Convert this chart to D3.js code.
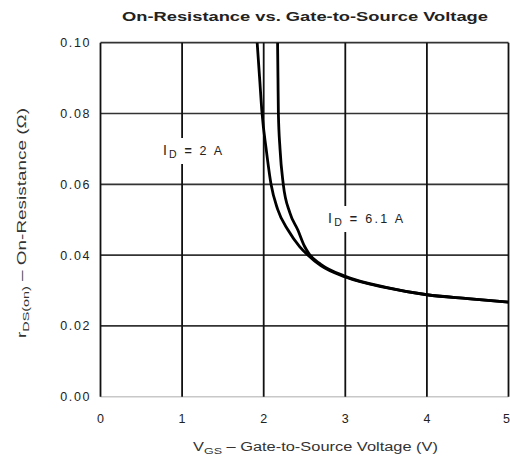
<!DOCTYPE html>
<html>
<head>
<meta charset="utf-8">
<script src="https://cdn.jsdelivr.net/npm/d3@7/dist/d3.min.js"></script>
<style>
  html, body { margin: 0; padding: 0; background: #fff; }
  svg { display: block; }
  text { font-family: "Liberation Sans", Arial, Helvetica, sans-serif; fill: #111; }
</style>
</head>
<body>
<svg id="chart" width="510" height="461"></svg>
<script>
// Gate-to-source voltage (V) and on-resistance (ohm) for each drain current
const vgs2A   = [1.92, 1.95, 1.98, 2.03, 2.09, 2.17, 2.30, 2.44, 2.54, 2.70, 3.00, 3.50, 4.00, 4.50, 5.00];
const rds2A   = [0.100, 0.090, 0.080, 0.070, 0.060, 0.053, 0.047, 0.0424, 0.0400, 0.0370, 0.0338, 0.0308, 0.0288, 0.0277, 0.0267];
const vgs61A  = [2.17, 2.175, 2.18, 2.20, 2.24, 2.32, 2.42, 2.50, 2.56, 2.70, 3.00, 3.50, 4.00, 4.50, 5.00];
const rds61A  = [0.100, 0.090, 0.080, 0.070, 0.060, 0.052, 0.047, 0.0425, 0.0402, 0.0374, 0.0340, 0.0309, 0.0288, 0.0277, 0.0267];

const xTicks = [0, 1, 2, 3, 4, 5];
const yTicks = [0.00, 0.02, 0.04, 0.06, 0.08, 0.10];

const svg = d3.select("#chart");
const plotLeft = 100.5, plotRight = 508.5, plotTop = 42.7, plotBottom = 396.7;

const x = d3.scaleLinear().domain([0, 5]).range([plotLeft, plotRight]);
const y = d3.scaleLinear().domain([0, 0.10]).range([plotBottom, plotTop]);

// Title
svg.append("text")
  .attr("x", 305).attr("y", 21)
  .attr("text-anchor", "middle")
  .attr("font-size", 13.5).attr("font-weight", "bold")
  .attr("textLength", 366).attr("lengthAdjust", "spacingAndGlyphs")
  .style("fill", "#222")
  .text("On-Resistance vs. Gate-to-Source Voltage");

// Horizontal grid lines
svg.append("g")
  .selectAll("line")
  .data(yTicks)
  .join("line")
  .attr("x1", plotLeft).attr("x2", plotRight)
  .attr("y1", d => y(d)).attr("y2", d => y(d))
  .attr("stroke", d => d === 0 ? "#c8c8c8" : "#333")
  .attr("stroke-width", d => d === 0 ? 1.5 : 1.7);

// Vertical grid lines
svg.append("g")
  .selectAll("line")
  .data(xTicks)
  .join("line")
  .attr("x1", d => x(d)).attr("x2", d => x(d))
  .attr("y1", plotTop).attr("y2", plotBottom)
  .attr("stroke", "#111")
  .attr("stroke-width", 1.8);

// Y tick labels
svg.append("g")
  .selectAll("text")
  .data(yTicks)
  .join("text")
  .attr("x", 91).attr("y", d => y(d) + 4.5)
  .attr("text-anchor", "end")
  .attr("font-size", 12.5)
  .attr("letter-spacing", 1.6)
  .style("fill", "#222")
  .text(d => d3.format(".2f")(d));

// X tick labels (the last one sits flush with the right edge)
svg.append("g")
  .selectAll("text")
  .data(xTicks)
  .join("text")
  .attr("x", d => d === 5 ? 510 : x(d)).attr("y", 423)
  .attr("text-anchor", d => d === 5 ? "end" : "middle")
  .attr("font-size", 12.5)
  .style("fill", "#222")
  .text(d => d);

// X axis title
const xt = svg.append("text")
  .attr("x", 193).attr("y", 451)
  .attr("font-size", 12.5)
  .attr("textLength", 245).attr("lengthAdjust", "spacingAndGlyphs")
  .style("fill", "#333");
xt.append("tspan").text("V");
xt.append("tspan").attr("dy", 3).attr("font-size", 9.5).text("GS");
xt.append("tspan").attr("dy", -3).text(" \u2013 Gate-to-Source Voltage (V)");

// Y axis title
const yt = svg.append("text")
  .attr("transform", "translate(26,338) rotate(-90)")
  .attr("font-size", 12.5)
  .attr("textLength", 230).attr("lengthAdjust", "spacingAndGlyphs")
  .style("fill", "#333");
yt.append("tspan").text("r");
yt.append("tspan").attr("dy", 3).attr("font-size", 9.5).text("DS(on)");
yt.append("tspan").attr("dy", -3).text("  \u2013  On-Resistance (\u03A9)");

// Curves
svg.append("clipPath").attr("id", "plotClip")
  .append("rect")
  .attr("x", plotLeft).attr("y", plotTop)
  .attr("width", plotRight - plotLeft).attr("height", plotBottom - plotTop);

const line = d3.line()
  .x(d => x(d[0]))
  .y(d => y(d[1]))
  .curve(d3.curveMonotoneX);

const series = [
  d3.zip(vgs2A, rds2A),
  d3.zip(vgs61A, rds61A)
];

svg.append("g").attr("clip-path", "url(#plotClip)")
  .selectAll("path")
  .data(series)
  .join("path")
  .attr("d", line)
  .attr("fill", "none")
  .attr("stroke", "#000")
  .attr("stroke-width", 2.8)
  .attr("stroke-linejoin", "round");

// Curve labels with white backing
function currentLabel(px, py, value, len) {
  const g = svg.append("g");
  const bg = g.append("rect").attr("fill", "#fff");
  const t = g.append("text")
    .attr("x", px).attr("y", py)
    .attr("font-size", 12.5)
    .attr("textLength", len).attr("lengthAdjust", "spacing")
    .style("fill", "#222");
  t.append("tspan").attr("font-size", 14).text("I");
  t.append("tspan").attr("dy", 3).attr("font-size", 10.5).text("D");
  t.append("tspan").attr("dy", -3).attr("font-weight", "bold").text(" = ");
  t.append("tspan").text(value);
  const b = t.node().getBBox();
  bg.attr("x", px - 3).attr("y", b.y - 4).attr("width", len + 6).attr("height", b.height + 8);
}
currentLabel(163, 155, "2 A", 59);
currentLabel(328, 223, "6.1 A", 75);
</script>
</body>
</html>
